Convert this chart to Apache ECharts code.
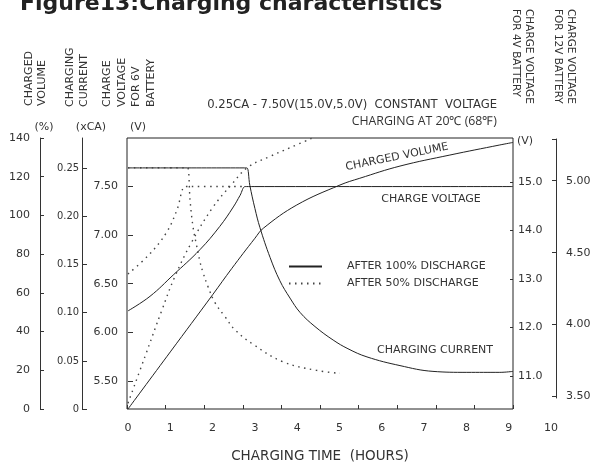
<!DOCTYPE html>
<html><head><meta charset="utf-8">
<script src="https://cdn.jsdelivr.net/npm/echarts@6/dist/echarts.min.js"></script>
<style>html,body{margin:0;padding:0;background:#fff}#c{width:598px;height:464px}</style>
</head><body><div id="c"></div>
<script>
// ---- tick values ----
const hourTicks = [0,1,2,3,4,5,6,7,8,9,10];
const pctTicks = [0,20,40,60,80,100,120,140];
const currentTicks = [0,0.05,0.10,0.15,0.20,0.25];
const volt6Ticks = [5.5,6.0,6.5,7.0,7.5];
const volt12Ticks = [11,12,13,14,15];
const volt4Ticks = [3.5,4.0,4.5,5.0];

// ---- series: [hours, value] ----
// after 100% discharge (solid)
const voltage100 = [[0,6.22],[0.52,6.37],[1.07,6.59],[1.70,6.85],[2.17,7.09],[2.49,7.29],[2.65,7.41],[2.77,7.50],[2.85,7.50],[3.0,7.50],[9.1,7.50]];
const current100 = [[0,0.25],[2.75,0.25],[2.81,0.25],[2.88,0.232],[3.0,0.208],[3.12,0.188],[3.36,0.157],[3.59,0.133],[3.83,0.115],[4.07,0.100],[4.42,0.0855],[4.85,0.0715],[5.2,0.0625],[5.65,0.054],[6.43,0.045],[7.21,0.039],[8.01,0.038],[8.79,0.038],[9.1,0.039]];
const volume100 = [[0,0],[1.0,29.5],[2.0,59],[2.45,72.5],[3.0,88.2],[3.2,93.4],[3.99,105.4],[5.01,115.7],[5.48,119.2],[6.43,125.5],[7.61,131.2],[8.79,136.4],[9.1,137.7]];
// after 50% discharge (dotted)
const voltage50 = [[0,6.60],[0.5,6.80],[0.9,7.02],[1.15,7.25],[1.35,7.50],[1.42,7.50],[2.77,7.50]];
const current50 = [[0,0.25],[1.36,0.25],[1.41,0.25],[1.47,0.215],[1.54,0.188],[1.62,0.170],[1.70,0.153],[1.77,0.142],[1.89,0.127],[2.06,0.110],[2.29,0.096],[2.53,0.082],[2.96,0.067],[3.66,0.049],[4.46,0.040],[5.01,0.037]];
const volume50 = [[0,3],[0.4,27],[0.8,51],[1.1,68],[1.5,86],[2.0,104],[2.45,116],[2.84,125],[3.36,130.5],[3.83,135],[4.34,139.8]];

const F = 'DejaVu Sans';
const TXT = '#333';
const LINE = '#222';
const DOT = '#444';
const chart = echarts.init(document.getElementById('c'), null, {renderer:'canvas'});

const lbl = (extra) => Object.assign({fontFamily:F, fontSize:11, color:TXT}, extra);
const noLine = {show:false, onZero:false};
const solidLine = {show:true, onZero:false, lineStyle:{color:'#333', width:1}};

function txt(x, y, text, opt) {
  opt = opt || {};
  return {
    type:'text', x:x, y:y, rotation: opt.rotation || 0, silent:true,
    style:{
      text:text, fill: opt.fill || TXT,
      fontFamily: opt.fontFamily || F, fontSize: opt.fontSize || 11, fontWeight: opt.fontWeight || 'normal',
      align: opt.align || 'center', textAlign: opt.align || 'center',
      verticalAlign: opt.va || 'middle', textVerticalAlign: opt.va || 'middle',
      lineHeight: opt.lineHeight || undefined
    }
  };
}

const solidStyle = {color:LINE, width:1};
const dotStyle = {color:DOT, width:1.4, type:[1.5,4.5]};
function ser(name, data, yi, style) {
  return {name:name, type:'line', xAxisIndex:1, yAxisIndex:yi, data:data, smooth:0.4,
    symbol:'none', showSymbol:false, color:style.color, lineStyle:style, silent:true};
}

chart.setOption({
  animation:false,
  backgroundColor:'#fff',
  grid:[
    {left:127, top:138, width:386, height:271, show:true, borderColor:'#222', borderWidth:1, backgroundColor:'transparent', containLabel:false, outerBoundsMode:'none'},
    {left:128, top:138, width:423, height:271, containLabel:false, outerBoundsMode:'none'},
    {left:400, top:139, width:156, height:259, containLabel:false, outerBoundsMode:'none'}
  ],
  xAxis:[
    {gridIndex:0, type:'value', min:0, max:10, interval:1, axisLine:noLine,
      axisTick:{show:true, inside:true, length:4, lineStyle:{color:'#333'}},
      axisLabel:{show:false}, splitLine:{show:false},
      name:'CHARGING TIME  (HOURS)', nameLocation:'middle', nameGap:40,
      nameTextStyle:{fontFamily:F, fontSize:13.5, color:TXT}},
    {gridIndex:1, type:'value', min:0, max:10, interval:1, axisLine:noLine, axisTick:{show:false},
      splitLine:{show:false}, axisLabel:lbl({margin:14, customValues:hourTicks})},
    {gridIndex:2, type:'value', show:false, min:0, max:1}
  ],
  yAxis:[
    {gridIndex:0, type:'value', position:'right', min:10.32, max:15.907, axisLine:noLine,
      axisTick:{show:true, inside:true, length:3, customValues:volt12Ticks, lineStyle:{color:'#333'}},
      axisLabel:lbl({customValues:volt12Ticks, formatter:v=>Number(v).toFixed(1), margin:5}), splitLine:{show:false}},
    {gridIndex:1, type:'value', position:'left', offset:0, min:5.21, max:8.0, axisLine:noLine,
      axisTick:{show:true, inside:true, length:5, customValues:volt6Ticks, lineStyle:{color:'#333'}},
      axisLabel:lbl({customValues:volt6Ticks, formatter:v=>Number(v).toFixed(2), margin:10}), splitLine:{show:false}},
    {gridIndex:1, type:'value', position:'left', offset:46, min:0, max:0.281, axisLine:solidLine,
      axisTick:{show:true, inside:true, length:5, customValues:currentTicks, lineStyle:{color:'#333'}},
      axisLabel:lbl({customValues:currentTicks, formatter:v=>Number(v)===0?'0':Number(v).toFixed(2), margin:3,
        fontFamily:'"Liberation Sans Narrow","DejaVu Sans Condensed",sans-serif', fontSize:11}), splitLine:{show:false}},
    {gridIndex:1, type:'value', position:'left', offset:88, min:0, max:140, interval:20, axisLine:solidLine,
      axisTick:{show:true, inside:true, length:4, lineStyle:{color:'#333'}},
      axisLabel:lbl({margin:10, customValues:pctTicks}), splitLine:{show:false}},
    {gridIndex:2, type:'value', position:'right', min:3.49, max:5.29, axisLine:solidLine,
      axisTick:{show:true, inside:true, length:4, customValues:volt4Ticks.concat([5.29]), lineStyle:{color:'#333'}},
      axisLabel:lbl({customValues:volt4Ticks, formatter:v=>Number(v).toFixed(2), margin:10}), splitLine:{show:false}}
  ],
  legend:{
    orient:'vertical', left:283, top:256, itemWidth:33, itemHeight:10, itemGap:6, selectedMode:false,
    data:['AFTER 100% DISCHARGE','AFTER 50% DISCHARGE'],
    itemStyle:{color:'transparent', borderColor:'transparent', borderWidth:0, opacity:0},
    textStyle:{fontFamily:F, fontSize:11, color:TXT, padding:[0,0,0,20]}
  },
  series:[
    ser('AFTER 50% DISCHARGE', voltage50, 1, dotStyle),
    ser('AFTER 50% DISCHARGE', current50, 2, dotStyle),
    ser('AFTER 50% DISCHARGE', volume50, 3, dotStyle),
    ser('AFTER 100% DISCHARGE', voltage100, 1, solidStyle),
    ser('AFTER 100% DISCHARGE', current100, 2, solidStyle),
    ser('AFTER 100% DISCHARGE', volume100, 3, solidStyle)
  ],
  graphic:[
    txt(20, 4, 'Figure13:Charging characteristics', {align:'left', fontSize:22, fontWeight:'bold', fill:'#222'}),
    txt(22, 106, 'CHARGED\nVOLUME', {rotation:Math.PI/2, align:'left', va:'top', lineHeight:13.5}),
    txt(63, 107, 'CHARGING\nCURRENT', {rotation:Math.PI/2, align:'left', va:'top', lineHeight:14}),
    txt(100, 107, 'CHARGE\nVOLTAGE\nFOR 6V\nBATTERY', {rotation:Math.PI/2, align:'left', va:'top', lineHeight:14.6}),
    txt(535, 9, 'CHARGE VOLTAGE\nFOR 4V BATTERY', {rotation:-Math.PI/2, align:'left', va:'top', lineHeight:13, fontSize:10.5}),
    txt(577, 9, 'CHARGE VOLTAGE\nFOR 12V BATTERY', {rotation:-Math.PI/2, align:'left', va:'top', lineHeight:13, fontSize:10.5}),
    txt(44, 127, '(%)'),
    txt(91, 127, '(xCA)'),
    txt(138, 127, '(V)'),
    txt(517, 141, '(V)', {align:'left'}),
    txt(497, 105, '0.25CA - 7.50V(15.0V,5.0V)  CONSTANT  VOLTAGE', {align:'right', fontSize:11.6}),
    txt(497, 121, 'CHARGING AT 20\u2103 (68\u2109)', {align:'right', fontFamily:'"Open Sans",sans-serif', fontSize:12.3}),
    txt(397, 157, 'CHARGED VOLUME', {rotation:0.2}),
    txt(431, 199, 'CHARGE VOLTAGE'),
    txt(435, 350, 'CHARGING CURRENT')
  ]
});
</script></body></html>
